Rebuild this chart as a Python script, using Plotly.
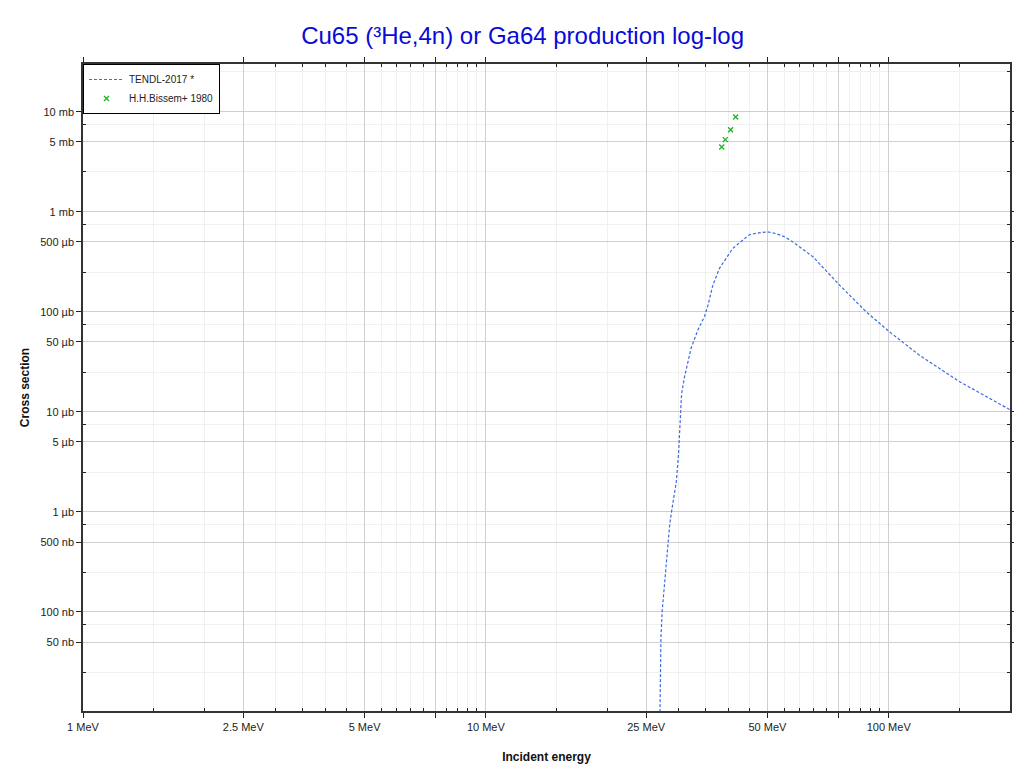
import plotly.graph_objects as go

# TENDL-2017 evaluated cross section (energy in MeV, cross section in mb)
tendl_energy = [27.0, 27.2, 27.4, 28.0, 28.6, 29.0, 29.7, 30.1, 30.4, 30.6, 31.1, 31.5,
                32.3, 33.6, 34.9, 35.6, 36.6, 38.0, 39.5, 41.0, 43.4, 45.1, 47.5, 50.0,
                52.5, 55.1, 57.8, 64.8, 75.5, 87.9, 100.0, 119.0, 150.0, 200.0]
tendl_xs = [5e-6, 5.6e-5, 1.03e-4, 2.6e-4, 7.5e-4, 1.1e-3, 2.0e-3, 4.0e-3, 8.7e-3, 1.5e-2,
            2.2e-2, 2.75e-2, 4.3e-2, 6.6e-2, 9.0e-2, 1.17e-1, 1.85e-1, 2.72e-1, 3.43e-1,
            4.3e-1, 5.2e-1, 5.9e-1, 6.15e-1, 6.3e-1, 6.05e-1, 5.63e-1, 5.0e-1, 3.56e-1,
            1.85e-1, 1.0e-1, 6.4e-2, 3.7e-2, 2.0e-2, 1.05e-2]

# H.H.Bissem+ 1980 experimental points
exp_energy = [38.5, 39.3, 40.5, 41.7]
exp_xs = [4.44, 5.26, 6.61, 8.85]

# Axis ticks
x_tickvals = [1, 2.5, 5, 7.5, 10, 25, 50, 75, 100]
x_ticktext = ["1 MeV", "2.5 MeV", "5 MeV", "", "10 MeV", "25 MeV", "50 MeV", "", "100 MeV"]
x_minor = [1.5, 2, 3, 3.5, 4, 4.5, 5.5, 6, 6.5, 7, 8, 8.5, 9, 9.5,
           15, 20, 30, 35, 40, 45, 55, 60, 65, 70, 80, 85, 90, 95, 150]

y_tickvals = [10, 5, 1, 0.5, 0.1, 0.05, 0.01, 0.005, 0.001, 5e-4, 1e-4, 5e-5]
y_ticktext = ["10 mb", "5 mb", "1 mb", "500 µb", "100 µb", "50 µb", "10 µb", "5 µb",
              "1 µb", "500 nb", "100 nb", "50 nb"]
y_minor = [25, 7.5, 2.5, 0.75, 0.25, 0.075, 0.025, 0.0075, 0.0025, 7.5e-4, 2.5e-4,
           7.5e-5, 2.5e-5]

fig = go.Figure()
fig.add_trace(go.Scatter(
    x=tendl_energy, y=tendl_xs, mode="lines", name="TENDL-2017 *",
    line=dict(color="#3d6be0", width=1.2, dash="3px,2px"),
))
fig.add_trace(go.Scatter(
    x=exp_energy, y=exp_xs, mode="markers", name="H.H.Bissem+ 1980",
    marker=dict(symbol="x-thin", size=5, color="#20b020",
                line=dict(width=1.3, color="#20b020")),
))

font_family = "Liberation Sans, Arial, sans-serif"

fig.update_layout(
    width=1013, height=758,
    margin=dict(l=75, r=4, t=56, b=53),
    paper_bgcolor="white", plot_bgcolor="white",
    font=dict(family=font_family, size=11, color="#222"),
    title=dict(text="Cu65 (³He,4n) or Ga64 production log-log",
               x=0.508, xanchor="center", y=0.964, yanchor="middle",
               font=dict(size=24, color="#0a0ad6", family=font_family)),
    legend=dict(x=0, y=1, xanchor="left", yanchor="top",
                bordercolor="black", borderwidth=1, bgcolor="white",
                font=dict(size=10, color="#222"), tracegroupgap=0,
                itemwidth=35),
    showlegend=True,
)

fig.update_xaxes(
    type="log", range=[0, 2.30103],
    tickmode="array", tickvals=x_tickvals, ticktext=x_ticktext,
    ticks="outside", ticklen=5, tickcolor="#222",
    showline=True, linecolor="#333", linewidth=1.5, mirror="ticks",
    showgrid=True, gridcolor="#cfcfcf", gridwidth=1.2,
    minor=dict(tickvals=x_minor, ticks="inside", ticklen=3, tickcolor="#222",
               showgrid=True, gridcolor="#f0f0f0", gridwidth=1),
    title=dict(text="<b>Incident energy</b>", font=dict(size=12, color="#111"), standoff=21),
    zeroline=False,
)
fig.update_yaxes(
    type="log", range=[-4.99, 1.4771],
    tickmode="array", tickvals=y_tickvals, ticktext=y_ticktext,
    ticks="outside", ticklen=5, tickcolor="#222",
    showline=True, linecolor="#333", linewidth=1.5, mirror="ticks",
    showgrid=True, gridcolor="#cfcfcf", gridwidth=1.2,
    minor=dict(tickvals=y_minor, ticks="inside", ticklen=3, tickcolor="#222",
               showgrid=True, gridcolor="#f0f0f0", gridwidth=1),
    title=dict(text="<b>Cross section</b>", font=dict(size=12, color="#111"), standoff=8),
    zeroline=False,
)

fig.write_html("out.html")
